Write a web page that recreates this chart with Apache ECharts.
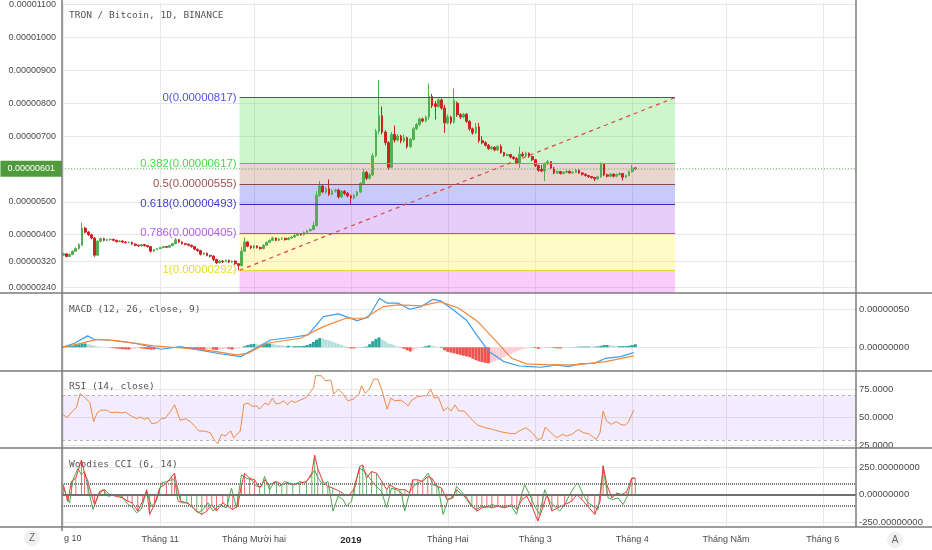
<!DOCTYPE html>
<html><head><meta charset="utf-8">
<script src="https://cdn.jsdelivr.net/npm/echarts@6/dist/echarts.min.js"></script>
<style>html,body{margin:0;padding:0;background:#fff}#c{width:932px;height:550px}</style>
</head><body><div id="c"></div>
<script>
// ---- data (prices in units of 1e-8 BTC) ----
// daily candles from 1 Oct 2018, each row: [open, close, low, high]
const candles = [
[338,342,335,345],[342,334,331,344],[334,340,332,343],[340,350,338,353],[350,358,348,362],[358,370,355,374],[368,420,365,437],[420,408,404,424],[408,400,396,411],[400,390,386,403],
[390,338,333,393],[338,380,336,384],[380,388,377,392],[388,383,380,391],[383,385,381,388],[385,386,382,389],[386,383,380,388],[383,379,376,385],[379,381,377,384],[381,378,375,383],
[378,376,373,380],[376,377,374,379],[377,372,370,379],[372,368,365,374],[368,366,363,370],[366,370,364,372],[370,367,364,372],[367,364,361,369],[364,350,346,366],[350,355,348,357],
[355,358,353,360],[358,361,356,363],[361,364,359,366],[364,362,360,366],[362,367,360,369],[367,373,365,375],[373,385,371,390],[385,378,375,387],[378,373,370,380],[373,371,368,375],
[371,368,365,373],[368,364,361,370],[364,356,353,366],[356,352,348,358],[352,341,337,354],[341,344,338,346],[344,337,334,346],[337,335,331,339],[335,325,320,337],[325,315,311,327],
[315,320,312,323],[320,318,314,322],[318,322,316,325],[322,317,314,324],[317,320,314,322],[320,312,308,322],[312,306,292,314],[306,350,304,362],[350,378,348,392],[378,365,362,380],
[365,360,356,368],[360,366,358,369],[366,361,358,368],[361,358,355,364],[358,368,356,371],[368,377,366,380],[377,383,375,386],[383,390,381,394],[390,383,380,392],[383,387,381,390],
[387,389,384,392],[389,385,382,391],[385,390,383,393],[390,393,388,396],[393,398,391,401],[398,403,396,406],[403,400,397,405],[400,407,398,410],[407,412,405,415],[412,416,410,420],
[416,428,414,440],[428,520,425,532],[520,548,515,563],[548,530,526,552],[530,540,524,546],[540,523,518,568],[523,533,520,538],[533,536,528,540],[536,515,510,540],[515,532,512,536],
[532,526,520,536],[526,518,514,530],[518,512,490,522],[512,520,508,524],[520,530,516,534],[530,556,527,560],[556,590,552,600],[590,572,566,594],[572,582,568,588],[582,640,578,648],
[640,715,636,722],[715,762,706,870],[762,712,705,790],[712,680,672,718],[680,605,598,684],[605,705,602,712],[705,688,680,732],[688,700,683,706],[700,685,678,704],[685,695,680,705],
[695,668,662,698],[668,690,664,694],[690,722,686,728],[722,735,718,740],[735,752,730,757],[752,746,741,756],[746,758,742,762],[758,820,750,860],[820,792,785,828],[798,790,750,806],
[790,810,786,815],[810,785,780,814],[785,740,710,795],[740,758,736,766],[758,742,736,762],[742,808,738,845],[800,765,758,805],[765,758,752,770],[758,766,754,770],[766,745,740,770],
[745,722,716,748],[722,710,704,726],[710,728,706,740],[728,686,680,740],[686,680,675,700],[680,672,668,684],[672,662,658,676],[662,666,658,670],[666,658,654,669],[658,668,655,672],
[668,650,646,675],[650,641,637,652],[641,644,638,647],[644,636,632,646],[636,632,628,639],[632,618,614,635],[618,645,603,668],[645,640,636,652],[640,648,637,653],[648,638,634,650],
[638,628,624,640],[628,610,606,630],[610,596,592,613],[598,594,590,612],[594,616,563,620],[616,622,612,628],[622,603,600,624],[603,588,584,606],[588,592,585,595],[592,586,583,594],
[586,590,584,593],[590,593,587,596],[593,588,585,595],[588,590,585,593],[590,596,588,599],[596,588,585,598],[588,584,580,590],[584,580,577,586],[580,577,573,582],[577,574,570,579],
[574,570,563,576],[570,576,567,579],[576,615,573,620],[615,582,578,618],[582,578,574,586],[578,584,575,588],[584,578,574,587],[578,583,575,586],[583,586,580,590],[586,575,565,588],
[575,580,572,583],[580,592,578,595],[592,603,589,612],[603,601,597,606]
];
// MACD (1e-8), points [day, value]
const macdLine = [[-0.4,0],[3.6,5.3],[7.8,15],[9.7,10.5],[14.5,9.6],[22.9,5.3],[31.3,-2.6],[37.4,0.9],[44.6,-4.4],[50.6,-8.8],[56.7,-12.3],[61.5,-1.3],[66.3,9.6],[73.5,13.2],[78.3,16.2],[83.2,40.4],[88,44],[94,35],[97.6,39.5],[101.2,64.5],[103.6,58],[107.2,58],[110.8,50],[114.5,53.5],[118.1,63],[120.5,61.4],[124.1,51.3],[128.9,36],[132.6,14],[136.2,-5.7],[141,-18.9],[145.8,-24.6],[149.4,-25.4],[153,-26.3],[157.8,-23.2],[161.5,-25.4],[165.1,-21.9],[169.9,-21],[173.5,-14.5],[178.3,-12.3],[182.5,-7]];
const signalLine = [[-0.4,0],[4.8,4.4],[10.9,10.5],[16.9,8.8],[28.9,1.8],[38.6,-1.3],[47,-4.4],[55.4,-10],[59.1,-7.9],[65.1,5.3],[75.9,11.9],[83.2,27.2],[90.4,38.2],[96.4,38.2],[102.4,53.5],[107.2,55.7],[114.5,54.4],[120.5,60],[126.5,51.3],[132.6,33.8],[138.6,7.5],[143.4,-14.5],[148.2,-21.9],[155.4,-23.2],[163.9,-23.2],[173.5,-18.9],[182.5,-11.4]];
// MACD histogram, one value per day
const macdHist = [0.5,1,1.5,2,3,4,5,5,4,3,2,1,0.5,0.3,0,
-0.5,-1,-1.5,-2,-2.5,-3,-3,-2.5,-2,-1.5,-1.5,-2,-2.5,-3,-3,-2,
-1.5,-1,-0.5,0.3,0.5,0.3,-0.3,-0.5,
-1,-1.5,-2,-2.5,-3,-3.5,-3.5,-3,-2.5,-3,-3.5,-3,-2.5,-2,-2,-3,-2,-1.5,-0.5,
1.5,3,4,4.5,4,3.5,4,4.5,5,4.5,3.5,3,2.5,2,2,1.5,1.5,1.5,1.5,2,
3,4.5,7,10,12,11.5,10,9,7.5,6,4.5,3,1.5,
-0.5,-1.5,-1.5,-1,0.3,0.5,1,4,8,11,13,10,8,5,4,2.5,
1,-0.5,-2,-4,-5.5,-4,-2,-0.5,0.5,1.5,2.5,2,1,0.5,
-1,-4,-6,-7,-8,-9,-10,-11,-12,-13,-15,-17,-18.5,-19.5,-20.5,-21,
-20,-18.5,-17,-15,-13,-11,-9,-7,-5.5,-4,-2.5,-1.5,
-0.5,-0.5,-1,-2,-1.5,-0.5,0.3,-0.3,-1,-1.5,-1.5,-1,-0.3,
0.2,0.3,0.5,0.8,1,1,1,0.8,0.8,1.2,2,3,3,2.5,2,1.5,1.5,1.5,1.5,2,3,4];
// RSI (14), points [day, value]
const rsiLine = [[-0.2,53],[1.2,50],[3,56],[4.2,59.1],[5.4,71.7],[6.6,68.7],[8.5,63.6],[9.7,46.4],[10.9,54.6],[12.1,56.7],[13.9,56.7],[15.1,54.6],[16.9,54.9],[18.7,54.3],[19.9,54.9],[21.7,51.5],[23.5,49.1],[24.7,50.6],[25.9,48.5],[27.1,50],[28.3,44.6],[30.1,45.5],[31.3,49.1],[32.6,49.4],[34.4,56],[35.6,61.5],[37.4,47.6],[39.2,49.1],[41,45.5],[43.4,38],[45.2,38],[47,36.5],[48.2,30.5],[49.4,26.6],[50.6,35],[51.8,33.5],[52.8,36.5],[53.6,38],[54.5,32],[55.4,34.4],[56.6,38],[57.8,62.1],[59.1,63],[60.3,60.3],[62.1,60.3],[62.7,57.6],[64.5,63],[65.7,61.5],[66.9,67.5],[68.1,62.1],[69.3,63],[70.5,65.1],[71.7,61.5],[72.9,65.1],[74.1,63.6],[76,66],[77.7,68.1],[78.9,72.6],[80.1,77.1],[80.7,87.6],[82.5,87.6],[83.8,83.1],[85.6,83.7],[86.5,71.1],[88,75.6],[89.2,72],[91,65.1],[92.8,66.6],[94.6,71.1],[95.4,78.6],[96.6,71.7],[97.9,75.6],[99.4,84.6],[100.6,84.6],[101.8,75.6],[103.6,57.6],[104.8,67.5],[106,65.1],[107.9,65.7],[109.1,63.6],[110.3,60.6],[111.5,65.7],[113.3,68.7],[115.1,69.6],[116.3,69.6],[117.5,75.6],[118.7,67.5],[119.9,68.7],[121.7,56],[122.9,59.1],[124.1,56],[125.3,61.5],[126.5,56],[128.3,56],[130.1,50],[132.5,43.4],[135,41],[137.4,39.5],[139.8,37.4],[142.8,35.9],[144.6,35.6],[145.8,38],[148,41],[150,36.5],[151.8,30.5],[153,31.1],[154.2,41.6],[156,36.5],[157.8,32],[159.7,35],[160.9,33.5],[162.7,35],[164.8,39.5],[166.3,36.5],[168.1,35.6],[170.5,30.5],[171.7,36.5],[172.7,56],[173.8,47],[175.3,44],[176.9,46.4],[178.3,44],[179.5,43.1],[180.7,45.5],[182.5,56.7]];
// Woodies CCI: CCI(14) (histogram + red line) and turbo CCI(6) (green line), points [day, value]
const cci14 = [[0,90],[1.4,-59],[2.6,119],[4,149],[5.8,313],[6.8,194],[7.9,119],[9,0],[10,-89],[11.6,30],[13.2,45],[14.8,0],[17,-15],[19,-29],[20.6,-59],[22,-74],[23.8,-148],[25.4,-59],[26.7,45],[27.6,-178],[29.2,-89],[30.8,60],[33,104],[34.7,164],[35.6,194],[36.3,90],[37.5,-59],[39.5,-74],[41,-104],[42.7,-148],[44.3,-178],[45.9,-148],[47.5,-89],[49,-148],[51,-74],[52.6,-104],[54.2,-134],[55.8,-104],[57,90],[58,194],[59.6,149],[61.2,134],[62.8,60],[64.4,134],[66,90],[68.2,119],[69.9,90],[71.5,104],[73.4,90],[75.6,104],[77.8,119],[79.5,194],[80.4,357],[81.4,238],[83,119],[84.6,75],[86.2,60],[88.4,30],[90,0],[91.6,0],[93.2,60],[94.8,253],[95.8,268],[97,149],[98.6,209],[100.2,194],[101.9,119],[103.5,45],[104.4,90],[106.1,60],[107.7,45],[109.3,45],[110.8,15],[111.8,134],[113.4,134],[115,119],[116.6,164],[117.9,149],[119.5,75],[121,60],[122.7,-44],[124.3,-29],[125.9,45],[127.5,0],[129.1,-29],[130.7,-104],[132.3,-148],[133.9,-119],[135.5,-104],[137.1,-119],[139,-104],[141.3,-119],[143.5,-89],[145.1,-134],[146.7,-44],[148.3,-15],[149.9,-104],[151.8,-238],[153.4,-119],[154.7,0],[156.3,-148],[158.2,-119],[160.4,-89],[162.7,-59],[164.3,0],[165.9,-44],[167.8,-104],[170,-178],[171.7,-59],[172.7,262],[173.9,90],[175.5,-29],[177.1,15],[178.7,0],[180.3,30],[181.9,149],[183,149]];
const cci6 = [[0,60],[0.95,0],[2,-74],[3.1,134],[4.7,238],[5.75,179],[6.8,209],[7.9,60],[9.5,-134],[11.1,-15],[12.7,45],[14.3,-15],[16.4,0],[18.6,-15],[20.7,-89],[21.8,-104],[23.4,-163],[24.9,-134],[26.6,30],[28.2,-104],[29.8,-59],[31.4,104],[33,119],[34.6,134],[35.6,134],[36.7,-59],[38.3,-74],[39.9,-74],[41.5,-119],[43.1,-163],[44.7,-134],[46.3,-74],[47.9,-148],[50,-89],[52.2,-119],[53.8,60],[55.4,-119],[57,179],[58.6,149],[60.2,134],[61.8,75],[63.4,75],[64.4,164],[66,45],[67.6,119],[69.2,75],[70.8,119],[72.4,104],[74,90],[75.6,119],[77.2,104],[78.8,149],[80.4,223],[81.5,149],[83.1,90],[84.7,119],[86.3,-148],[87.9,-15],[89.5,-44],[90.6,-104],[92.2,-59],[93.2,90],[94.8,238],[96.4,209],[98,149],[99.6,90],[101.8,30],[103.4,-119],[105,60],[106.6,45],[108.2,15],[109.2,-148],[110.9,30],[112.5,90],[114.6,119],[116.7,194],[118.3,90],[119.9,75],[121.5,-178],[123.1,-44],[124.7,-29],[125.8,75],[127.4,30],[129,-44],[130.6,-104],[132.2,-134],[133.8,-104],[135.4,-119],[137,-89],[139.1,-104],[141.2,-104],[143.4,-104],[145,-178],[146.6,0],[147.6,90],[149.2,0],[150.8,-104],[152.4,-178],[154,45],[155.6,-59],[157.2,-104],[158.8,-148],[160.4,-89],[162,0],[163.6,75],[164.7,104],[166.3,0],[167.9,-74],[169.5,-104],[171.1,-134],[172.7,238],[174.3,-29],[175.9,-44],[177.5,-29],[179.1,-89],[180.7,0],[181.8,149],[182.9,149]];
const cciGreenRanges = [[36.8,45.5],[62.5,111.5],[117.5,131]];
// axes / labels
const monthDays = [31,61,92,123,151,182,212,243];
const monthLabels = ['Tháng 11','Tháng Mười hai','2019','Tháng Hai','Tháng 3','Tháng 4','Tháng Năm','Tháng 6'];
const priceTicks = [240,320,400,500,700,800,900,1000,1100];
const priceGrid = [240,320,400,500,600,700,800,900,1000,1100];
const macdTicks = [0,50];
const rsiTicks = [25,50,75];
const cciTicks = [-250,0,250];
// Fibonacci retracement drawing
const fibLevels = ['0','0.382','0.5','0.618','0.786','1'];
const fibPrices = [817,617,555,493,405,292];
const fibStart = 56.4, fibEnd = 195.7;
const lastPrice = 601;

// ---- styles ----
const fibLineColors = ['#4646cc','#4ccc4c','#8c4a46','#2e2eb4','#9d55d8','#e4d830'];
const fibLabelColors = ['#5252e6','#44dd44','#a0524d','#3c3cd6','#b25ee6','#e6de22'];
const fibFills = ['rgba(60,220,60,0.26)','rgba(170,90,70,0.25)','rgba(50,60,235,0.27)','rgba(165,70,235,0.27)','rgba(255,235,50,0.27)','rgba(238,40,238,0.24)'];
const UP = '#4fb14f', DOWN = '#cc2222';
const XMIN = -0.42, XMAX = 253.6;
const MAIN_MIN = 222.9, MAIN_MAX = 1105.4;
const FONT = 'Liberation Sans';
const MONO = 'DejaVu Sans Mono';

const chart = echarts.init(document.getElementById('c'), null, {renderer: 'canvas'});

const grids = [
  {left: 62, right: 76, top: 0, height: 293},
  {left: 62, right: 76, top: 293, height: 78},
  {left: 62, right: 76, top: 371, height: 77},
  {left: 62, right: 76, top: 448, height: 79}
];

function xAxisFor(i) {
  const ax = {
    type: 'value', gridIndex: i, min: XMIN, max: XMAX,
    axisLine: {show: false},
    axisTick: {show: false, customValues: [0].concat(monthDays)},
    splitLine: {show: true, lineStyle: {color: '#e8e8e8', width: 1}},
    axisLabel: {show: false}
  };
  if (i === 3) {
    ax.axisLabel = {
      show: true, customValues: monthDays, margin: 8,
      color: '#4a4a4a', fontSize: 9, fontFamily: FONT,
      formatter: v => {
        const t = monthLabels[monthDays.indexOf(Math.round(v))] || '';
        return t === '2019' ? '{b|2019}' : t;
      },
      rich: {b: {fontWeight: 'bold', color: '#2a2a2a', fontSize: 9.5, fontFamily: FONT}}
    };
  }
  return ax;
}

function yAxisFor(i, min, max, ticks, gridTicks, fmt, pos) {
  return {
    type: 'value', gridIndex: i, min: min, max: max, position: pos,
    axisLine: {show: false},
    axisTick: {show: false, customValues: gridTicks},
    splitLine: {show: true, lineStyle: {color: '#e8e8e8', width: 1}},
    axisLabel: {
      show: true, customValues: ticks, formatter: fmt,
      color: '#4a4a4a', fontSize: pos === 'left' ? 9 : 9.5, fontFamily: FONT,
      margin: pos === 'left' ? 6 : 3
    }
  };
}

const fmt8 = v => (v / 1e8).toFixed(8);

// Fibonacci fills
const fibAreas = [];
for (let k = 0; k < fibPrices.length - 1; k++) {
  fibAreas.push([
    {xAxis: fibStart, yAxis: fibPrices[k], itemStyle: {color: fibFills[k]}},
    {xAxis: fibEnd, yAxis: fibPrices[k + 1]}
  ]);
}
fibAreas.push([
  {xAxis: fibStart, yAxis: fibPrices[fibPrices.length - 1], itemStyle: {color: fibFills[fibFills.length - 1]}},
  {xAxis: fibEnd, yAxis: MAIN_MIN}
]);

// Fibonacci level lines + labels
const fibLines = fibPrices.map((p, k) => [
  {
    coord: [fibStart, p],
    lineStyle: {color: fibLineColors[k], width: 1.2, type: 'solid'},
    label: {
      show: true, position: 'start', distance: 3,
      formatter: fibLevels[k] + '(' + fmt8(p) + ')',
      color: fibLabelColors[k], fontSize: 11.4, fontFamily: FONT
    }
  },
  {coord: [fibEnd, p]}
]);

const candleData = candles.map((r, i) => [i, r[0], r[1], r[2], r[3]]);

function inGreen(d) {
  return cciGreenRanges.some(r => d >= r[0] && d <= r[1]);
}

const option = {
  animation: false,
  backgroundColor: '#ffffff',
  grid: grids,
  xAxis: [xAxisFor(0), xAxisFor(1), xAxisFor(2), xAxisFor(3)],
  yAxis: [
    yAxisFor(0, MAIN_MIN, MAIN_MAX, priceTicks, priceGrid, fmt8, 'left'),
    yAxisFor(1, -31.2, 71.4, macdTicks, macdTicks, fmt8, 'right'),
    yAxisFor(2, 22.8, 91.8, rsiTicks, rsiTicks, v => v.toFixed(4), 'right'),
    yAxisFor(3, -291.5, 421, cciTicks, [-250, 250], v => v.toFixed(8), 'right')
  ],
  series: [
    { // Fibonacci background fills
      type: 'line', xAxisIndex: 0, yAxisIndex: 0, data: [], z: 1, silent: true,
      markArea: {silent: true, data: fibAreas}
    },
    {
      type: 'candlestick', name: 'TRXBTC', xAxisIndex: 0, yAxisIndex: 0, z: 3,
      dimensions: ['day', 'open', 'close', 'lowest', 'highest'],
      encode: {x: 0, y: [1, 2, 3, 4]},
      data: candleData, barWidth: 2.2,
      itemStyle: {color: UP, color0: DOWN, borderColor: UP, borderColor0: DOWN, borderWidth: 1}
    },
    { // Fibonacci lines, trend line, last price
      type: 'line', xAxisIndex: 0, yAxisIndex: 0, data: [], z: 4, silent: true,
      markLine: {
        silent: true, symbol: ['none', 'none'],
        data: fibLines.concat([
          [
            {coord: [fibStart, fibPrices[5]], lineStyle: {color: '#e04444', width: 1.2, type: [4, 4]}, label: {show: false}},
            {coord: [fibEnd, fibPrices[0]]}
          ],
          {
            yAxis: lastPrice,
            lineStyle: {color: '#86c886', width: 1, type: [1, 2]},
            label: {
              show: true, position: 'start', distance: 0, formatter: fmt8(lastPrice),
              backgroundColor: '#4f9b3b', color: '#ffffff', padding: [4, 7, 3, 7],
              fontSize: 9, fontFamily: FONT
            }
          }
        ])
      }
    },
    // MACD
    {
      type: 'bar', xAxisIndex: 1, yAxisIndex: 1, barWidth: 3, z: 2,
      data: macdHist.map((v, i) => [i, v]),
      itemStyle: {
        color: p => {
          const i = p.dataIndex, v = macdHist[i], prev = i > 0 ? macdHist[i - 1] : 0;
          if (v >= 0) return v >= prev ? '#26a69a' : '#b2dfdb';
          return v <= prev ? '#ef5350' : '#ffcdd2';
        }
      }
    },
    {type: 'line', xAxisIndex: 1, yAxisIndex: 1, data: macdLine, showSymbol: false, z: 3,
     lineStyle: {color: '#3d9df0', width: 1.2}},
    {type: 'line', xAxisIndex: 1, yAxisIndex: 1, data: signalLine, showSymbol: false, z: 3,
     lineStyle: {color: '#f5873a', width: 1.2}},
    // RSI
    {
      type: 'line', xAxisIndex: 2, yAxisIndex: 2, data: rsiLine, showSymbol: false, z: 3,
      lineStyle: {color: '#f08a45', width: 1},
      markArea: {silent: true, itemStyle: {color: 'rgba(153,102,255,0.12)'}, data: [[{yAxis: 30}, {yAxis: 70}]]},
      markLine: {
        silent: true, symbol: ['none', 'none'], label: {show: false},
        lineStyle: {color: '#b9b0c6', width: 1, type: [3, 3]},
        data: [{yAxis: 70}, {yAxis: 30}]
      }
    },
    // Woodies CCI
    {
      type: 'bar', xAxisIndex: 3, yAxisIndex: 3, barWidth: 1, z: 2,
      data: cci14,
      itemStyle: {color: p => inGreen(p.value[0]) ? 'rgba(76,175,80,0.85)' : 'rgba(240,80,80,0.85)'}
    },
    {type: 'line', xAxisIndex: 3, yAxisIndex: 3, data: cci6, showSymbol: false, z: 3,
     lineStyle: {color: '#4aa84a', width: 1}},
    {
      type: 'line', xAxisIndex: 3, yAxisIndex: 3, data: cci14, showSymbol: false, z: 4,
      lineStyle: {color: '#ee3b3b', width: 1},
      markLine: {
        silent: true, symbol: ['none', 'none'], label: {show: false},
        data: [
          {yAxis: 0, lineStyle: {color: '#707070', width: 2, type: 'solid'}},
          {yAxis: 100, lineStyle: {color: '#7a7a7a', width: 2, type: [1, 1]}},
          {yAxis: -100, lineStyle: {color: '#7a7a7a', width: 2, type: [1, 1]}}
        ]
      }
    }
  ],
  graphic: [
    // panel borders
    {type: 'line', z: 100, silent: true, shape: {x1: 0, y1: 293, x2: 932, y2: 293}, style: {stroke: '#7b7b7b', lineWidth: 1.5}},
    {type: 'line', z: 100, silent: true, shape: {x1: 0, y1: 371, x2: 932, y2: 371}, style: {stroke: '#7b7b7b', lineWidth: 1.5}},
    {type: 'line', z: 100, silent: true, shape: {x1: 0, y1: 448, x2: 932, y2: 448}, style: {stroke: '#7b7b7b', lineWidth: 1.5}},
    {type: 'line', z: 100, silent: true, shape: {x1: 0, y1: 527, x2: 932, y2: 527}, style: {stroke: '#7b7b7b', lineWidth: 1.5}},
    {type: 'line', z: 100, silent: true, shape: {x1: 62, y1: 0, x2: 62, y2: 531}, style: {stroke: '#7b7b7b', lineWidth: 1.5}},
    {type: 'line', z: 100, silent: true, shape: {x1: 856, y1: 0, x2: 856, y2: 527}, style: {stroke: '#7b7b7b', lineWidth: 1.5}},
    // titles
    {type: 'text', z: 101, left: 69, top: 11, style: {text: 'TRON / Bitcoin, 1D, BINANCE', fill: '#555', font: '9.5px "DejaVu Sans Mono"'}},
    {type: 'text', z: 101, left: 69, top: 305, style: {text: 'MACD (12, 26, close, 9)', fill: '#555', font: '9.5px "DejaVu Sans Mono"'}},
    {type: 'text', z: 101, left: 69, top: 382, style: {text: 'RSI (14, close)', fill: '#555', font: '9.5px "DejaVu Sans Mono"'}},
    {type: 'text', z: 101, left: 69, top: 460, style: {text: 'Woodies CCI (6, 14)', fill: '#555', font: '9.5px "DejaVu Sans Mono"'}},
    // clipped first month label
    {type: 'text', z: 101, left: 64, top: 534, style: {text: 'g 10', fill: '#4a4a4a', font: '9px "Liberation Sans"'}},
    // scale buttons
    {type: 'circle', z: 101, shape: {cx: 32, cy: 538, r: 8}, style: {fill: '#f0f0f0'}},
    {type: 'text', z: 102, x: 32, y: 538, style: {text: 'Z', fill: '#666', font: '10px "Liberation Sans"', align: 'center', verticalAlign: 'middle'}},
    {type: 'circle', z: 101, shape: {cx: 895, cy: 540, r: 8}, style: {fill: '#f0f0f0'}},
    {type: 'text', z: 102, x: 895, y: 540, style: {text: 'A', fill: '#666', font: '10px "Liberation Sans"', align: 'center', verticalAlign: 'middle'}}
  ]
};
chart.setOption(option);
</script>
</body></html>
